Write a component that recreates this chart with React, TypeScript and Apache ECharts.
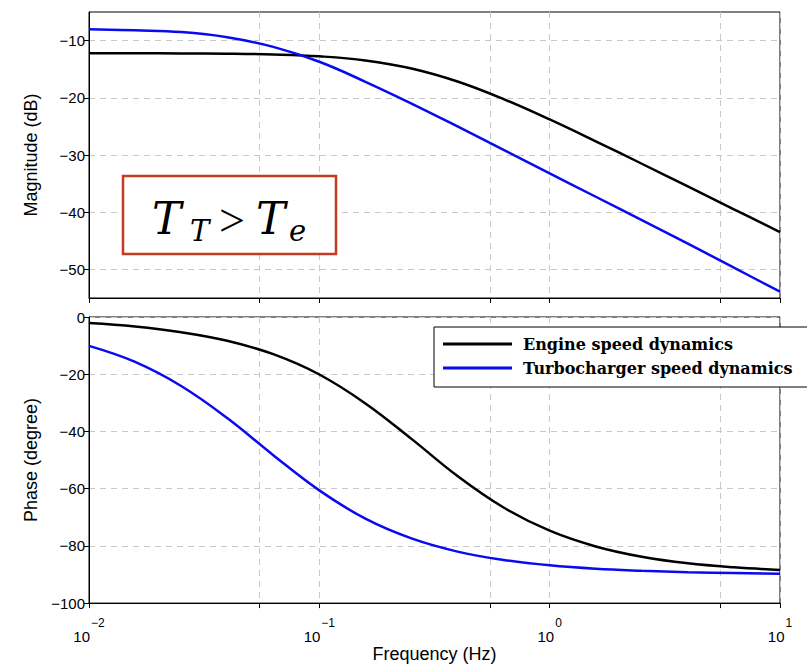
import React, { useEffect, useRef } from 'react';
import * as echarts from 'echarts';

// log10 of frequency (Hz)
const logFreq = [-2, -1.8, -1.6, -1.4, -1.2, -1, -0.8, -0.6, -0.4, -0.2, 0, 0.2, 0.4, 0.6, 0.8, 1];
const engineMag = [-12.21, -12.21, -12.24, -12.29, -12.43, -12.75, -13.46, -14.87, -17.15, -20.23, -23.79, -27.61, -31.53, -35.5, -39.49, -43.48];
const turboMag = [-8.0, -8.2, -8.5, -9.4, -11.1, -13.7, -17.2, -21.0, -25.0, -29.1, -33.2, -37.3, -41.4, -45.5, -49.7, -53.9];
const enginePhase = [-2.1, -3.3, -5.3, -8.3, -13.0, -20.1, -30.2, -42.6, -55.6, -66.6, -74.7, -80.2, -83.8, -86.1, -87.5, -88.4];
const turboPhase = [-10.1, -15.7, -24.1, -35.3, -48.3, -60.6, -70.5, -77.4, -82.0, -84.9, -86.8, -88.0, -88.7, -89.2, -89.5, -89.7];

const seriesNames = ['Engine speed dynamics', 'Turbocharger speed dynamics'];
const xLabelExps = [-2, -1, 0, 1];
const xTickPos = [-2, -1.26, -1, -0.26, 0, 0.74, 1];
const magTicks = [-50, -40, -30, -20, -10];
const phaseTicks = [-100, -80, -60, -40, -20, 0];

const minus = (v: number | string) => String(v).replace('-', '\u2212');

const pairs = (ys: number[]) => logFreq.map((x, i) => [x, ys[i]]);

const gridLine = { show: true, lineStyle: { color: '#c8c8c8', type: [6, 5] as any, width: 1 } };
const axisFont = { fontFamily: 'Liberation Sans', fontSize: 15, color: '#000' };

function makeX(gridIndex: number, withLabels: boolean) {
  return {
    type: 'value',
    gridIndex,
    min: -2,
    max: 1,
    axisLine: { show: true, onZero: false, lineStyle: { color: '#000', width: 1 } },
    axisTick: { show: true, customValues: xTickPos, length: 5, lineStyle: { color: '#000' } },
    splitLine: gridLine,
    axisLabel: withLabels
      ? {
          show: true,
          customValues: xLabelExps,
          margin: 26,
          formatter: (v: number) => `{b|10}{s|${minus(v)}}`,
          rich: {
            b: { fontFamily: 'Liberation Sans', fontSize: 15, color: '#000', lineHeight: 15, verticalAlign: 'bottom' },
            s: { fontFamily: 'Liberation Sans', fontSize: 12, color: '#000', lineHeight: 12, padding: [0, 0, 15, 1], verticalAlign: 'bottom' },
          },
        }
      : { show: false },
    name: withLabels ? 'Frequency (Hz)' : '',
    nameLocation: 'middle',
    nameGap: 41,
    nameTextStyle: { fontFamily: 'Liberation Sans', fontSize: 18, color: '#000' },
  };
}

function makeY(gridIndex: number, min: number, max: number, ticks: number[], name: string) {
  return {
    type: 'value',
    gridIndex,
    min,
    max,
    axisLine: { show: true, onZero: false, lineStyle: { color: '#000' } },
    axisTick: { show: true, customValues: ticks, length: 5, lineStyle: { color: '#000' } },
    axisLabel: { ...axisFont, customValues: ticks, margin: 4, formatter: (v: number) => minus(v) },
    splitLine: gridLine,
    name,
    nameLocation: 'middle',
    nameGap: 49,
    nameTextStyle: { fontFamily: 'Liberation Sans', fontSize: 18, color: '#000' },
  };
}

const blue = '#0a0af0';

const option: any = {
  animation: false,
  backgroundColor: '#fff',
  grid: [
    { left: 89, right: 27, top: 12, height: 286, show: true, borderColor: '#000', borderWidth: 1 },
    { left: 89, right: 27, top: 317, height: 288, show: true, borderColor: '#000', borderWidth: 1 },
  ],
  xAxis: [makeX(0, false), makeX(1, true)],
  yAxis: [
    makeY(0, -55, -5, magTicks, 'Magnitude (dB)'),
    makeY(1, -100, 0, phaseTicks, 'Phase (degree)'),
  ],
  legend: {
    data: seriesNames,
    orient: 'vertical',
    left: 434,
    top: 327,
    padding: [9, 60, 11, 9],
    itemGap: 8,
    itemWidth: 69,
    itemHeight: 3,
    icon: 'rect',
    backgroundColor: '#fff',
    borderColor: '#000',
    borderWidth: 1,
    textStyle: { fontFamily: 'DejaVu Serif', fontWeight: 'bold', fontSize: 16, color: '#000', padding: [0, 0, 0, 6] },
    z: 20,
  },
  series: [
    { name: seriesNames[0], type: 'line', xAxisIndex: 0, yAxisIndex: 0, data: pairs(engineMag), symbol: 'none', smooth: 0.4, lineStyle: { color: '#000', width: 2.5 }, itemStyle: { color: '#000' } },
    { name: seriesNames[1], type: 'line', xAxisIndex: 0, yAxisIndex: 0, data: pairs(turboMag), symbol: 'none', smooth: 0.4, lineStyle: { color: blue, width: 2.5 }, itemStyle: { color: blue } },
    { name: seriesNames[0], type: 'line', xAxisIndex: 1, yAxisIndex: 1, data: pairs(enginePhase), symbol: 'none', smooth: 0.4, lineStyle: { color: '#000', width: 2.5 }, itemStyle: { color: '#000' } },
    { name: seriesNames[1], type: 'line', xAxisIndex: 1, yAxisIndex: 1, data: pairs(turboPhase), symbol: 'none', smooth: 0.4, lineStyle: { color: blue, width: 2.5 }, itemStyle: { color: blue } },
  ],
  graphic: [
    {
      type: 'rect',
      z: 100,
      shape: { x: 123, y: 176, width: 213, height: 78 },
      style: { fill: '#fff', stroke: '#c23b22', lineWidth: 2.5 },
    },
    { type: 'text', z: 101, x: 152, y: 218, style: { text: 'T', font: 'italic 44px "DejaVu Serif"', fill: '#000', verticalAlign: 'middle' } },
    { type: 'text', z: 101, x: 190, y: 231, style: { text: 'T', font: 'italic 29px "DejaVu Serif"', fill: '#000', verticalAlign: 'middle' } },
    { type: 'text', z: 101, x: 219, y: 220, style: { text: '>', font: '46px "Liberation Serif"', fill: '#000', verticalAlign: 'middle' } },
    { type: 'text', z: 101, x: 256, y: 218, style: { text: 'T', font: 'italic 44px "DejaVu Serif"', fill: '#000', verticalAlign: 'middle' } },
    { type: 'text', z: 101, x: 289, y: 231, style: { text: 'e', font: 'italic 29px "DejaVu Serif"', fill: '#000', verticalAlign: 'middle' } },
  ],
};

export default function App() {
  const ref = useRef<HTMLDivElement>(null);
  useEffect(() => {
    const chart = echarts.init(ref.current!, null, { renderer: 'svg' });
    chart.setOption(option);
    return () => chart.dispose();
  }, []);
  return (
    <div
      ref={ref}
      style={{ position: 'fixed', left: 0, top: 0, width: 807, height: 664, background: '#fff' }}
    />
  );
}
